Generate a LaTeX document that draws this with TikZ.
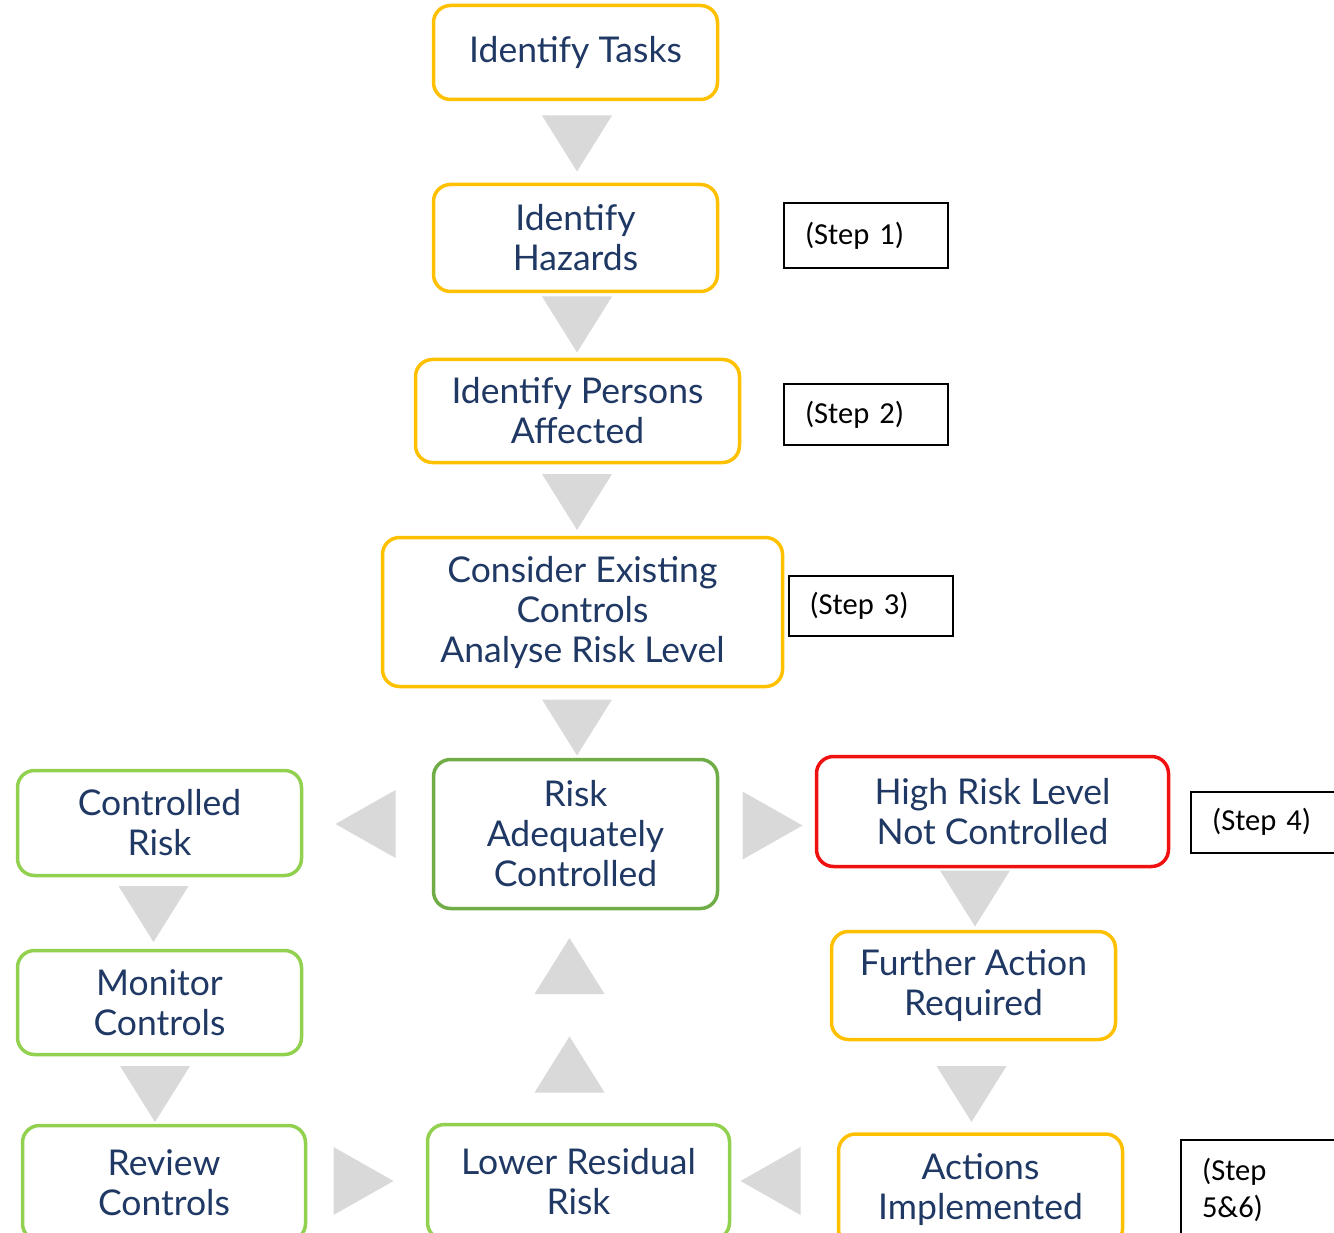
\documentclass[tikz,border=0pt]{standalone}
\usepackage{fontspec}
\setmainfont{Lato}
\newfontfamily\stepfont{Carlito}
\definecolor{amber}{HTML}{FFC000}
\definecolor{leafgreen}{HTML}{92D050}
\definecolor{darkgreen}{HTML}{70AD47}
\definecolor{alertred}{HTML}{F01010}
\definecolor{navy}{HTML}{1F3864}
\definecolor{flowgray}{HTML}{D9D9D9}
\begin{document}
\begin{tikzpicture}[x=1pt,y=-1pt,
  box/.style={draw, rounded corners=17pt, line width=3.5pt, fill=white,
    align=center, text=navy, inner sep=0pt,
    font=\fontsize{35.5}{40}\selectfont},
  stepbox/.style={draw=black, line width=2pt, fill=white, align=left,
    inner xsep=21pt, inner ysep=0pt, text width=122pt,
    font=\stepfont\fontsize{30.5}{37}\selectfont},
  tridown/.pic={\fill[flowgray] (-35,-28) -- (35,-28) -- (0,28) -- cycle;},
  triup/.pic={\fill[flowgray] (-35,28) -- (35,28) -- (0,-28) -- cycle;},
  trileft/.pic={\fill[flowgray] (30,-34) -- (30,34) -- (-30,0) -- cycle;},
  triright/.pic={\fill[flowgray] (-30,-34) -- (-30,34) -- (30,0) -- cycle;}
]
\useasboundingbox (0,0) rectangle (1334,1233);

% main column
\node[box, draw=amber, minimum width=284pt, minimum height=94pt] (tasks) at (575.5,52.5) {Identify Tasks};
\node[box, draw=amber, minimum width=284pt, minimum height=107pt] (hazards) at (575.5,238) {Identify\\Hazards};
\node[box, draw=amber, minimum width=324pt, minimum height=103pt] (persons) at (577.5,411) {Identify Persons\\Affected};
\node[box, draw=amber, minimum width=400pt, minimum height=149pt] (consider) at (582.5,612) {Consider Existing\\Controls\\Analyse Risk Level};
\node[box, draw=darkgreen, minimum width=284pt, minimum height=149pt] (adequate) at (575.5,834) {Risk\\Adequately\\Controlled};

% left column
\node[box, draw=leafgreen, minimum width=284pt, minimum height=105pt] (controlled) at (159.5,823) {Controlled\\Risk};
\node[box, draw=leafgreen, minimum width=284pt, minimum height=104pt] (monitor) at (159.5,1002.5) {Monitor\\Controls};
\node[box, draw=leafgreen, minimum width=283pt, minimum height=115pt] (review) at (164,1183) {Review\\Controls};

% bottom middle
\node[box, draw=leafgreen, minimum width=302pt, minimum height=115pt] (lower) at (578.5,1182) {Lower Residual\\Risk};

% right column
\node[box, draw=alertred, minimum width=352pt, minimum height=110pt] (high) at (992.5,811.5) {High Risk Level\\Not Controlled};
\node[box, draw=amber, minimum width=284pt, minimum height=108pt] (further) at (973.5,985.5) {Further Action\\Required};
\node[box, draw=amber, minimum width=284pt, minimum height=112pt] (actions) at (980.5,1190) {Actions\\Implemented};

% step labels
\node[stepbox, minimum height=65pt] (s1) at (866,235.5) {(Step 1)};
\node[stepbox, minimum height=60pt] (s2) at (866,414.5) {(Step 2)};
\node[stepbox, minimum height=60pt] (s3) at (870.5,605.5) {(Step 3)};
\node[stepbox, minimum height=61pt] (s4) at (1273,822) {(Step 4)};
\node[stepbox, minimum height=100pt] (s5) at (1263,1190) {(Step\\5\&6)};

% flow arrows
\coordinate (a1) at (577,143.5);
\coordinate (a2) at (577,324.5);
\coordinate (a3) at (577,502);
\coordinate (a4) at (577,727.5);
\coordinate (a5) at (365.5,824);
\coordinate (a6) at (772.5,825.5);
\coordinate (a7) at (153.5,914);
\coordinate (a8) at (155,1094);
\coordinate (a9) at (975,898.5);
\coordinate (a10) at (971.5,1094);
\coordinate (a11) at (363.5,1181);
\coordinate (a12) at (770.5,1181);
\coordinate (a13) at (569.5,966);
\coordinate (a14) at (569.5,1064.5);

\pic at (a1) {tridown};
\pic at (a2) {tridown};
\pic at (a3) {tridown};
\pic at (a4) {tridown};
\pic at (a5) {trileft};
\pic at (a6) {triright};
\pic at (a7) {tridown};
\pic at (a8) {tridown};
\pic at (a9) {tridown};
\pic at (a10) {tridown};
\pic at (a11) {triright};
\pic at (a12) {trileft};
\pic at (a13) {triup};
\pic at (a14) {triup};
\end{tikzpicture}
\end{document}
